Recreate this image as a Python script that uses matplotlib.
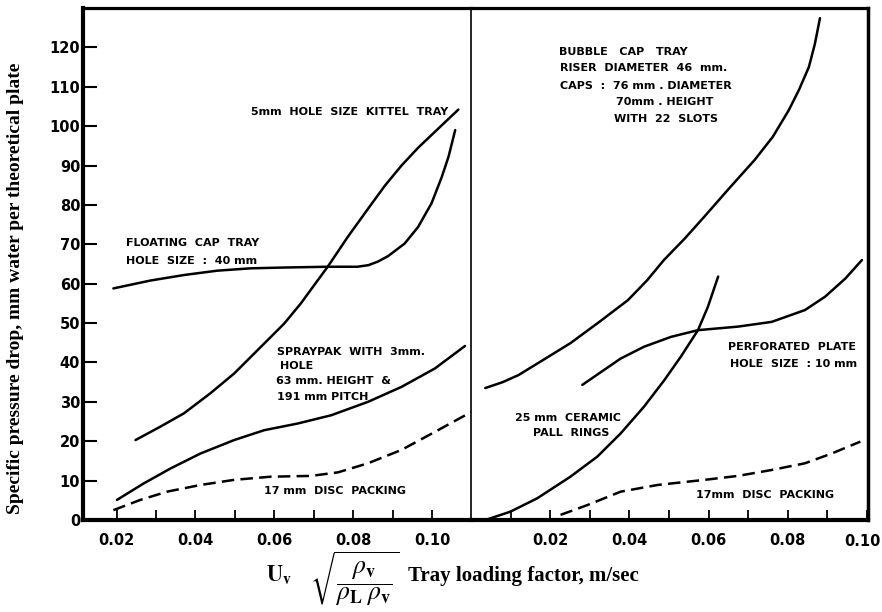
import numpy as np
import matplotlib.pyplot as plt

plt.rcParams['mathtext.fontset'] = 'stix'

# left panel curves (x: loading factor, y: mm water / plate)
float_x = [0.0192, 0.0286, 0.0371, 0.0455, 0.054, 0.0625, 0.0735, 0.081, 0.0838, 0.0862,
           0.0888, 0.093, 0.0964, 0.0998, 0.1024, 0.1041, 0.1058]
float_y = [58.8, 60.8, 62.2, 63.3, 63.9, 64.1, 64.3, 64.3, 64.7, 65.6,
           67.0, 70.2, 74.4, 80.4, 87.1, 92.2, 99.0]

kittel_x = [0.0248, 0.0311, 0.0371, 0.0438, 0.0498, 0.0566, 0.0625, 0.0667, 0.071, 0.0735,
            0.0786, 0.0837, 0.088, 0.0922, 0.0964, 0.1007, 0.1066]
kittel_y = [20.3, 23.7, 27.1, 32.2, 37.2, 44.0, 49.9, 55.0, 60.9, 64.3,
            71.9, 79.0, 84.9, 90.0, 94.5, 98.6, 104.2]

spray_x = [0.0201, 0.0269, 0.0337, 0.0413, 0.0498, 0.0574, 0.0659, 0.0744, 0.0837, 0.0922,
           0.1007, 0.1083]
spray_y = [5.1, 9.3, 13.1, 16.9, 20.3, 22.8, 24.5, 26.6, 30.0, 33.8, 38.5, 44.2]

disc_l_x = [0.0192, 0.026, 0.0328, 0.0413, 0.0498, 0.0591, 0.0693, 0.0761, 0.0837, 0.0922,
            0.1007, 0.110]
disc_l_y = [2.5, 5.1, 7.2, 8.9, 10.2, 11.0, 11.2, 12.1, 14.4, 17.8, 22.4, 27.5]

# right panel curves
bubble_x = [0.0036, 0.008, 0.012, 0.018, 0.0251, 0.032, 0.0396, 0.0445, 0.0487, 0.054,
            0.0589, 0.065, 0.0716, 0.0762, 0.0802, 0.0828, 0.0853, 0.0868, 0.0881]
bubble_y = [33.5, 35.0, 36.8, 40.5, 44.9, 50.0, 55.8, 60.9, 66.0, 71.5,
            77.0, 84.0, 91.4, 97.3, 104.0, 109.2, 115.0, 120.8, 127.4]

pall_x = [0.0036, 0.0099, 0.0167, 0.0251, 0.0319, 0.0378, 0.0437, 0.0488, 0.053, 0.0573,
          0.0598, 0.0624]
pall_y = [0.0, 2.1, 5.5, 11.0, 16.1, 22.0, 28.8, 35.5, 41.5, 48.2, 54.1, 61.8]

perf_x = [0.0281, 0.0336, 0.0378, 0.0437, 0.0505, 0.0573, 0.0674, 0.0759, 0.0843, 0.0894,
          0.0945, 0.0987]
perf_y = [34.3, 38.1, 41.0, 44.0, 46.5, 48.2, 49.1, 50.3, 53.3, 56.7, 61.3, 66.0]

disc_r_x = [0.0226, 0.0294, 0.0378, 0.0471, 0.059, 0.0674, 0.0759, 0.0843, 0.0911, 0.0983]
disc_r_y = [1.3, 3.8, 7.2, 8.9, 10.2, 11.2, 12.7, 14.4, 16.9, 19.9]

y_ticks = np.arange(0, 130, 10)
left_ticks = [0.02, 0.03, 0.04, 0.05, 0.06, 0.07, 0.08, 0.09, 0.10]
left_labels = ['0.02', '', '0.04', '', '0.06', '', '0.08', '', '0.10']
right_ticks = [0.01, 0.02, 0.03, 0.04, 0.05, 0.06, 0.07, 0.08, 0.09, 0.10]
right_labels = ['', '0.02', '', '0.04', '', '0.06', '', '0.08', '', '']

fig = plt.figure(figsize=(8.82, 6.12), dpi=100)
ax1 = fig.add_axes([0.0941, 0.1503, 0.534 - 0.0941, 0.987 - 0.1503])
ax2 = fig.add_axes([0.534, 0.1503, 0.984 - 0.534, 0.987 - 0.1503])

line = dict(color='black', lw=1.8, solid_capstyle='round', solid_joinstyle='round')
dashed = dict(color='black', lw=1.8, dashes=(5, 2.5))
ax1.plot(float_x, float_y, **line)
ax1.plot(kittel_x, kittel_y, **line)
ax1.plot(spray_x, spray_y, **line)
ax1.plot(disc_l_x, disc_l_y, **dashed)

ax2.plot(bubble_x, bubble_y, **line)
ax2.plot(pall_x, pall_y, **line)
ax2.plot(perf_x, perf_y, **line)
ax2.plot(disc_r_x, disc_r_y, **dashed)

ax1.set_xlim(0.0115, 0.1098)
ax2.set_xlim(0.0, 0.1002)
for ax in (ax1, ax2):
    ax.set_ylim(0, 130)

tick_font = dict(family='DejaVu Sans', weight='bold', size=10.5)

ax1.set_yticks(y_ticks)
ax1.set_yticklabels([str(v) for v in y_ticks], **tick_font)
ax1.set_xticks(left_ticks)
ax1.set_xticklabels(left_labels, **tick_font)
ax1.tick_params(axis='y', direction='in', length=10, width=1.5, pad=2)
ax1.tick_params(axis='x', direction='in', length=7, width=1.3, pad=9)

ax2.set_yticks([])
ax2.set_xticks(right_ticks)
ax2.set_xticklabels(right_labels, **tick_font)
ax2.tick_params(axis='x', direction='in', length=7, width=1.3, pad=9)
# last label sits on the right frame, nudged inward
ax2.annotate('0.10', xy=(0.10, 0), xycoords=('data', 'axes fraction'),
             xytext=(-3.5, -15.2), textcoords='offset points',
             ha='center', va='center', **tick_font)

# frame: heavy outer border, thin divider between the panels
ax1.spines['left'].set_linewidth(3.0)
ax1.spines['bottom'].set_linewidth(3.0)
ax1.spines['top'].set_linewidth(2.3)
ax1.spines['right'].set_visible(False)
ax2.spines['left'].set_linewidth(1.2)
ax2.spines['bottom'].set_linewidth(3.0)
ax2.spines['top'].set_linewidth(2.3)
ax2.spines['right'].set_linewidth(2.5)

note = dict(family='DejaVu Sans', weight='bold', size=8, va='center', ha='left')

ax1.text(0.0541, 103.6, '5mm  HOLE  SIZE  KITTEL  TRAY', **note)
ax1.text(0.0223, 70.3, 'FLOATING  CAP  TRAY', **note)
ax1.text(0.0223, 65.7, 'HOLE  SIZE  :  40 mm', **note)
ax1.text(0.0607, 42.6, 'SPRAYPAK  WITH  3mm.', **note)
ax1.text(0.0613, 39.1, 'HOLE', **note)
ax1.text(0.0604, 35.3, '63 mm. HEIGHT  &', **note)
ax1.text(0.0607, 31.2, '191 mm PITCH', **note)
ax1.text(0.0574, 7.4, '17 mm  DISC  PACKING', **note)

ax2.text(0.0221, 118.8, 'BUBBLE   CAP   TRAY', **note)
ax2.text(0.0225, 114.7, 'RISER  DIAMETER  46  mm.', **note)
ax2.text(0.0225, 110.2, 'CAPS  :  76 mm . DIAMETER', **note)
ax2.text(0.0366, 106.1, '70mm . HEIGHT', **note)
ax2.text(0.0362, 101.8, 'WITH  22  SLOTS', **note)
ax2.text(0.0650, 43.9, 'PERFORATED  PLATE', **note)
ax2.text(0.0655, 39.6, 'HOLE  SIZE  : 10 mm', **note)
ax2.text(0.0112, 25.9, '25 mm  CERAMIC', **note)
ax2.text(0.0157, 22.0, 'PALL  RINGS', **note)
ax2.text(0.0569, 6.3, '17mm  DISC  PACKING', **note)

label_font = dict(family='Liberation Serif', weight='bold')
fig.text(0.018, 0.529, 'Specific pressure drop, mm water per theoretical plate',
         rotation=90, ha='center', va='center', size=14, **label_font)
fig.text(266 / 882, 1 - 575 / 612, r'$\mathbf{U}_{\mathbf{v}}$',
         ha='left', va='center', size=16)
fig.text(310 / 882, 1 - 579 / 612, r'$\sqrt{\dfrac{\rho_\mathbf{v}}{\rho_\mathbf{L}\;\rho_\mathbf{v}}}$',
         ha='left', va='center', size=18.5)
fig.text(408 / 882, 1 - 576 / 612, 'Tray loading factor, m/sec',
         ha='left', va='center', size=15, **label_font)

fig.savefig('out.png', dpi=100)
